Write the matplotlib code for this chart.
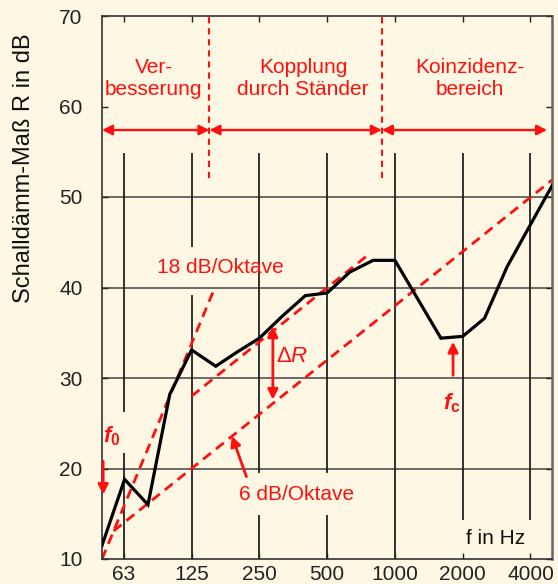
import matplotlib
matplotlib.use('Agg')
import matplotlib.pyplot as plt
from matplotlib.ticker import NullLocator, FixedLocator, FixedFormatter

plt.rcParams['font.family'] = ['Liberation Sans', 'DejaVu Sans']
plt.rcParams['mathtext.fontset'] = 'custom'
plt.rcParams['mathtext.rm'] = 'Liberation Sans'
plt.rcParams['mathtext.it'] = 'Liberation Sans:italic'
plt.rcParams['mathtext.bf'] = 'Liberation Sans:bold'
plt.rcParams['mathtext.bfit'] = 'Liberation Sans:bold:italic'

# ---- data ----
freq = [50, 63, 80, 100, 125, 160, 200, 250, 315, 400, 500, 630, 800, 1000,
        1600, 2000, 2500, 3150, 5000]
R = [11.5, 18.8, 16.0, 28.2, 33.1, 31.3, 32.9, 34.4, 36.8, 39.1, 39.4, 41.7,
     43.0, 43.0, 34.4, 34.6, 36.6, 42.3, 51.3]

tick_freq = [62.5, 125, 250, 500, 1000, 2000, 4000]
tick_labels = ['63', '125', '250', '500', '1000', '2000', '4000']
y_ticks = [10, 20, 30, 40, 50, 60, 70]
grid_y = [20, 30, 40, 50]

# vertical grid line pieces (bottom, top) in dB per tick frequency
vgrid_pieces = [
    [(10, 21.7), (26.2, 54.9)],
    [(10, 39.2), (44.5, 54.9)],
    [(10, 14.9), (19.5, 54.9)],
    [(10, 14.9), (19.5, 54.9)],
    [(10, 54.9)],
    [(14.3, 54.9)],
    [(14.3, 54.9)],
]

# reference slopes (end points)
line18_f, line18_R = [50, 158], [10.0, 39.9]
lineUp_f, lineUp_R = [125, 760], [28.0, 43.6]
lineLow_f, lineLow_R = [56.3, 5000], [13.1, 51.9]

# region boundaries and range arrows
bound_f = [150, 875]
bound_R = (52.1, 70)
range_f = [50, 150, 875, 4740]
range_R = 57.4
region_labels = ['Ver-\nbesserung', 'Kopplung\ndurch Ständer', 'Koinzidenz-\nbereich']
region_label_f = [85, 391, 2163]
region_label_R = 63.1

RED = '#FF1010'
BG = '#FDF7E3'

fig = plt.figure(figsize=(5.58, 5.84), dpi=100, facecolor=BG)
ax = fig.add_axes([102/558, 25/584, (552.3-102)/558, (559-16)/584])
ax.set_facecolor(BG)
ax.set_xscale('log', base=2)
ax.set_xlim(50, 5000)
ax.set_ylim(10, 70)

# grid
for gy in grid_y:
    ax.axhline(gy, color='#444444', lw=1.1, zorder=1)
for f, pieces in zip(tick_freq, vgrid_pieces):
    for lo, hi in pieces:
        ax.plot([f, f], [lo, hi], color='#222222', lw=1.3, zorder=1,
                solid_capstyle='butt')

# ticks
ax.xaxis.set_major_locator(FixedLocator(tick_freq))
ax.xaxis.set_major_formatter(FixedFormatter(tick_labels))
ax.xaxis.set_minor_locator(NullLocator())
ax.set_yticks(y_ticks)
ax.tick_params(axis='both', which='major', direction='in', length=4,
               width=1, top=True, right=True, labelsize=15, colors='#222222')
ax.tick_params(axis='x', pad=4)
ax.tick_params(axis='y', pad=14)
for s in ax.spines.values():
    s.set_color('#333333')
    s.set_linewidth(1.2)
ax.spines['right'].set_color('#666666')
ax.spines['right'].set_linewidth(1.8)

# reference dashed lines
dash = dict(color=RED, lw=2.0, dashes=(3.6, 2.3), zorder=2)
ax.plot(line18_f, line18_R, **dash)
ax.plot(lineUp_f, lineUp_R, **dash)
ax.plot(lineLow_f, lineLow_R, **dash)

# region boundaries
for bf in bound_f:
    ax.plot([bf, bf], bound_R, color=RED, lw=1.5, dashes=(3, 2.3), zorder=2,
            clip_on=False)

# range arrows
arrow_kw = dict(arrowstyle='<|-|>', color=RED, lw=1.7, mutation_scale=15,
                shrinkA=0, shrinkB=0)
for a, b in zip(range_f[:-1], range_f[1:]):
    ax.annotate('', xy=(b, range_R), xytext=(a, range_R),
                arrowprops=arrow_kw, zorder=3)

for lab, lf in zip(region_labels, region_label_f):
    ax.text(lf, region_label_R, lab, color=RED, fontsize=15, ha='center',
            va='center', linespacing=1.25)

# main curve
ax.plot(freq, R, color='black', lw=2.3, zorder=4, solid_joinstyle='miter')

# annotations
ax.text(167, 42.2, '18 dB/Oktave', color=RED, fontsize=15, ha='center', va='center')
ax.text(364, 17.1, '6 dB/Oktave', color=RED, fontsize=15, ha='center', va='center')
ax.annotate('', xy=(188.7, 23.6), xytext=(219, 19.1),
            arrowprops=dict(arrowstyle='-|>', color=RED, lw=2.0,
                            mutation_scale=15, shrinkA=0, shrinkB=0), zorder=3)
ax.annotate('', xy=(287, 35.7), xytext=(287, 27.6),
            arrowprops=dict(arrowstyle='<|-|>', color=RED, lw=2.0,
                            mutation_scale=15, shrinkA=0, shrinkB=0), zorder=3)
ax.text(351, 32.4, r'$\Delta\mathit{R}$', color=RED, fontsize=16, ha='center', va='center')

ax.annotate('', xy=(50.6, 17.1), xytext=(50.6, 20.8),
            arrowprops=dict(arrowstyle='-|>', color=RED, lw=2.0,
                            mutation_scale=15, shrinkA=0, shrinkB=0), zorder=5)
ax.text(55.3, 23.6, r'$\mathbfit{f}_{\mathbf{0}}$', color=RED, fontsize=16,
        ha='center', va='center')

ax.annotate('', xy=(1812, 34.0), xytext=(1812, 30.3),
            arrowprops=dict(arrowstyle='-|>', color=RED, lw=2.0,
                            mutation_scale=15, shrinkA=0, shrinkB=0), zorder=5)
ax.text(1793, 27.2, r'$\mathbfit{f}_{\mathbf{c}}$', color=RED, fontsize=16,
        ha='center', va='center')

ax.text(2806, 12.3, 'f in Hz', color='#111111', fontsize=15, ha='center', va='center')

fig.text(24/558, 1-168/584, 'Schalldämm-Maß R in dB', rotation=90,
         fontsize=17, ha='center', va='center', color='#111111')

fig.savefig('out.png', dpi=100, facecolor=BG)
